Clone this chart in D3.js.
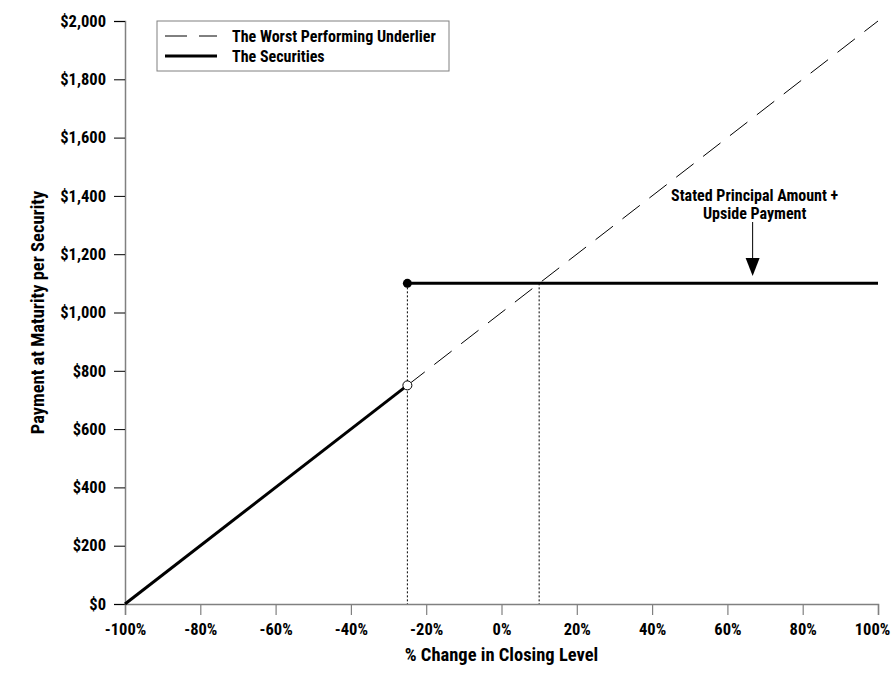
<!DOCTYPE html>
<html lang="en">
<head>
<meta charset="UTF-8">
<title>Payment at Maturity</title>
<script src="https://d3js.org/d3.v7.min.js"></script>
<style>
  body { margin: 0; background: #fff; }
  text { font-family: "Roboto Condensed", "Liberation Sans", Arial, sans-serif; font-weight: bold; fill: #000; }
</style>
</head>
<body>
<svg id="chart" width="894" height="674"></svg>
<script>
// data
const xTicks = [-100, -80, -60, -40, -20, 0, 20, 40, 60, 80, 100];
const yTicks = [0, 200, 400, 600, 800, 1000, 1200, 1400, 1600, 1800, 2000];
const underlier = [[-25, 750], [100, 2000]];
const securitiesLow = [[-100, 0], [-25, 750]];
const securitiesHigh = [[-25, 1100], [100, 1100]];
const thresholds = [[-25, 1100], [10, 1100]];
const openPoint = [-25, 750];
const closedPoint = [-25, 1100];
const annotation = { x: 66.7, y: 1100, lines: ["Stated Principal Amount +", "Upside Payment"] };
const legendItems = [
  { label: "The Worst Performing Underlier", dash: "22,12", width: 1 },
  { label: "The Securities", dash: null, width: 3 }
];

const font = "'Roboto Condensed', 'Liberation Sans', Arial, sans-serif";
const svg = d3.select("#chart");
const x = d3.scaleLinear().domain([-100, 100]).range([125, 878]);
const y = d3.scaleLinear().domain([0, 2000]).range([604, 21]);
const line = d3.line().x(d => x(d[0])).y(d => y(d[1]));

// axes
const yAxis = svg.append("g")
  .attr("transform", "translate(" + x(-100) + ",0)")
  .call(d3.axisLeft(y).tickValues(yTicks).tickSize(11).tickPadding(8)
    .tickFormat(d => "$" + d3.format(",")(d)));
const xAxis = svg.append("g")
  .attr("transform", "translate(0," + y(0) + ")")
  .call(d3.axisBottom(x).tickValues(xTicks).tickSize(11).tickPadding(8)
    .tickFormat(d => d + "%"));
[xAxis, yAxis].forEach(a => {
  a.select(".domain").attr("stroke", "#808080").attr("stroke-width", 1.5);
  a.selectAll(".tick line").attr("stroke", "#808080").attr("stroke-width", 1.2);
  a.selectAll(".tick text").style("font-size", "16.5px").style("font-family", font).style("font-weight", "bold");
});
yAxis.selectAll(".tick line").attr("stroke", "#000").attr("stroke-width", 1);
// last label sits a little left so it stays inside the frame
xAxis.selectAll(".tick text").filter(d => d === 100).attr("dx", -6);

svg.append("text")
  .attr("x", (x(-100) + x(100)) / 2).attr("y", 661)
  .attr("text-anchor", "middle").style("font-size", "18.5px")
  .text("% Change in Closing Level");
svg.append("text")
  .attr("transform", "translate(44," + (y(0) + y(2000)) / 2 + ") rotate(-90)")
  .attr("text-anchor", "middle").style("font-size", "18.5px")
  .text("Payment at Maturity per Security");

// threshold dotted lines
svg.selectAll("line.thr").data(thresholds).join("line")
  .attr("class", "thr")
  .attr("x1", d => x(d[0])).attr("x2", d => x(d[0]))
  .attr("y1", d => y(d[1])).attr("y2", y(0))
  .attr("stroke", "#000").attr("stroke-width", 1).attr("stroke-dasharray", "2,2");

// underlier
svg.append("path").datum(underlier)
  .attr("d", line).attr("fill", "none")
  .attr("stroke", "#000").attr("stroke-width", 1).attr("stroke-dasharray", "22,12");

// securities
[securitiesLow, securitiesHigh].forEach(seg => {
  svg.append("path").datum(seg)
    .attr("d", line).attr("fill", "none")
    .attr("stroke", "#000").attr("stroke-width", 3);
});

svg.append("circle").attr("cx", x(openPoint[0])).attr("cy", y(openPoint[1]))
  .attr("r", 4.5).attr("fill", "#fff").attr("stroke", "#000").attr("stroke-width", 1);
svg.append("circle").attr("cx", x(closedPoint[0])).attr("cy", y(closedPoint[1]))
  .attr("r", 4.5).attr("fill", "#000");

// annotation
const ax = x(annotation.x);
svg.selectAll("text.ann").data(annotation.lines).join("text")
  .attr("class", "ann")
  .attr("x", ax + 2).attr("y", (d, i) => 201 + i * 18)
  .attr("text-anchor", "middle").style("font-size", "16px")
  .text(d => d);
svg.append("line").attr("x1", ax).attr("x2", ax).attr("y1", 222).attr("y2", 262)
  .attr("stroke", "#000").attr("stroke-width", 1);
svg.append("path")
  .attr("d", "M" + (ax - 7) + ",258 L" + (ax + 7) + ",258 L" + ax + ",276 Z")
  .attr("fill", "#000");

// legend
const lg = svg.append("g").attr("transform", "translate(157,21)");
lg.append("rect").attr("width", 292).attr("height", 50)
  .attr("fill", "#fff").attr("stroke", "#808080").attr("stroke-width", 1);
legendItems.forEach((it, i) => {
  const yy = 15 + i * 20;
  lg.append("line").attr("x1", 8).attr("x2", 60).attr("y1", yy).attr("y2", yy)
    .attr("stroke", "#000").attr("stroke-width", it.width)
    .attr("stroke-dasharray", it.dash);
  lg.append("text").attr("x", 75).attr("y", yy + 5.5)
    .style("font-size", "16px").text(it.label);
});
</script>
</body>
</html>
